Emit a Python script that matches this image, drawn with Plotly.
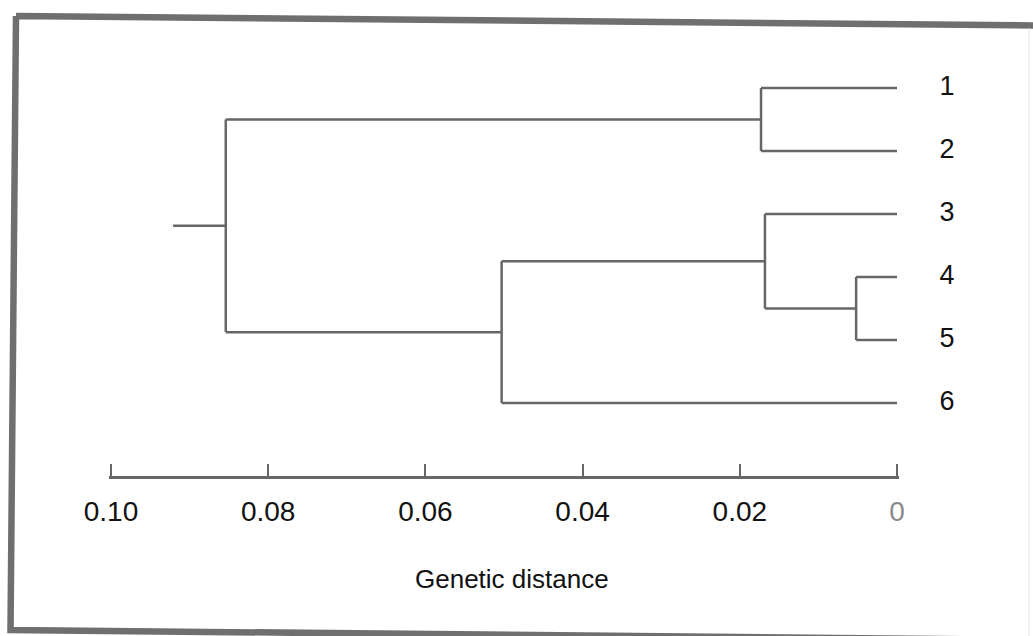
import plotly.graph_objects as go

# ---- data ----
leaf_labels = ["1", "2", "3", "4", "5", "6"]
node_names = ["A", "B", "C", "D", "E"]
node_children = [("1", "2"), ("4", "5"), ("3", "B"), ("C", "6"), ("A", "D")]
node_heights = [0.0173, 0.0052, 0.0168, 0.0503, 0.0854]
root_stub_start = 0.0921
tick_values = [0.10, 0.08, 0.06, 0.04, 0.02, 0.0]
tick_labels = ["0.10", "0.08", "0.06", "0.04", "0.02", "<span style='color:#8a8a8a'>0</span>"]
axis_title = "Genetic distance"

W, H = 1033, 636
LINE = "#676767"
FONT = "Liberation Sans, Arial, sans-serif"

# ---- dendrogram geometry from the linkage ----
ypos = {lab: i + 1 for i, lab in enumerate(leaf_labels)}
xpos = {lab: 0.0 for lab in leaf_labels}
for name, (a, b), h in zip(node_names, node_children, node_heights):
    ypos[name] = (ypos[a] + ypos[b]) / 2
    xpos[name] = h

xs, ys = [], []
for name, (a, b), h in zip(node_names, node_children, node_heights):
    xs += [h, h, None]
    ys += [ypos[a], ypos[b], None]
    for c in (a, b):
        xs += [h, xpos[c], None]
        ys += [ypos[c], ypos[c], None]
root = node_names[-1]
xs += [root_stub_start, xpos[root], None]
ys += [ypos[root], ypos[root], None]

# pixel -> paper helpers
def px(x):
    return x / W

def py(y):
    return 1 - y / H

x0_px, x1_px = 111, 897          # pixel positions of 0.10 and 0
per_unit = (x1_px - x0_px) / 0.10
leaf1_px, step_px = 88, 63
axis_y_px = 477
label_px = 947
pad = 0.00025                    # small overhang so end ticks are drawn

fig = go.Figure()
fig.add_trace(go.Scatter(x=xs, y=ys, mode="lines",
                         line=dict(color=LINE, width=2.5),
                         hoverinfo="skip", showlegend=False))
fig.add_trace(go.Scatter(x=[-(label_px - x1_px) / per_unit] * len(leaf_labels),
                         y=[ypos[l] for l in leaf_labels],
                         mode="text", text=leaf_labels,
                         textfont=dict(family=FONT, size=27, color="#111"),
                         cliponaxis=False, showlegend=False, hoverinfo="skip"))
# scale-bar axis (same distance units), carried by an invisible trace
fig.add_trace(go.Scatter(x=[tick_values[0], tick_values[-1]], y=[1, 1],
                         xaxis="x2", yaxis="y", mode="markers",
                         marker=dict(opacity=0), hoverinfo="skip",
                         showlegend=False))

fig.update_layout(
    width=W, height=H,
    margin=dict(l=0, r=0, t=0, b=0, autoexpand=False),
    paper_bgcolor="white", plot_bgcolor="rgba(0,0,0,0)",
    xaxis=dict(domain=[0, 1],
               range=[x1_px / per_unit, -(W - x1_px) / per_unit],
               visible=False, showgrid=False, zeroline=False),
    xaxis2=dict(domain=[px(x0_px - pad * per_unit), px(x1_px + pad * per_unit)],
                range=[0.10 + pad, -pad],
                anchor="free", position=py(axis_y_px),
                side="bottom",
                showline=True, linecolor=LINE, linewidth=2.5,
                ticks="inside", ticklen=12, tickwidth=2, tickcolor=LINE,
                tickvals=tick_values, ticktext=tick_labels,
                tickfont=dict(family=FONT, size=28, color="#111"),
                ticklabelstandoff=9,
                showgrid=False, zeroline=False),
    yaxis=dict(domain=[0, 1],
               range=[1 + (H - leaf1_px) / step_px, 1 - leaf1_px / step_px],
               visible=False, showgrid=False, zeroline=False),
    annotations=[dict(text=axis_title, xref="paper", yref="paper",
                      x=px(512), y=py(579), showarrow=False,
                      xanchor="center", yanchor="middle",
                      font=dict(family=FONT, size=26, color="#111"))],
)

# scanned frame around the figure
frame = [(16, 16), (1040, 25.5), (1040, 640), (10.5, 630), (16, 16)]
path = "M " + " L ".join(f"{px(x)},{py(y)}" for x, y in frame)
fig.add_shape(type="path", path=path, xref="paper", yref="paper",
              line=dict(color="#6f6f6f", width=6.5))
fig.add_shape(type="line", xref="paper", yref="paper",
              x0=px(1029), x1=px(1029), y0=py(28), y1=py(636),
              line=dict(color="#e2e2e2", width=1))

fig.write_html("out.html")
